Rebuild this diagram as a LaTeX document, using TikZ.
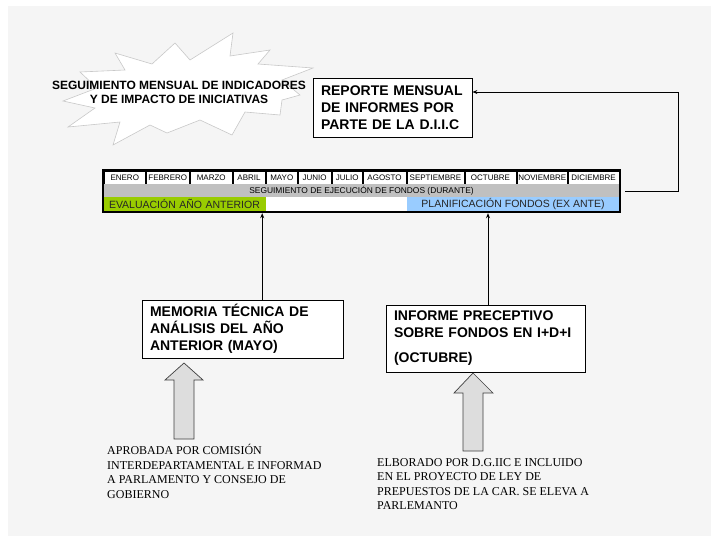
\documentclass[tikz,border=0pt]{standalone}
\usepackage{fontspec}
\setmainfont{Liberation Sans}
\newfontfamily\tnrfont{Liberation Serif}
\usetikzlibrary{arrows.meta}
\definecolor{bgcol}{RGB}{245,245,245}
\definecolor{evalgreen}{RGB}{153,204,0}
\definecolor{planblue}{RGB}{153,204,255}
\definecolor{rowgray}{RGB}{192,192,192}
\definecolor{blockfill}{RGB}{221,221,221}
\definecolor{burstline}{RGB}{200,200,200}
\begin{document}
\begin{tikzpicture}[x=1pt,y=-1pt,
  conn/.style={draw=black,line width=0.8pt,-{Stealth[length=5pt,width=4pt]}},
  textbox/.style={draw=black,line width=0.8pt,fill=white,inner xsep=8pt,inner ysep=0pt,align=left,
     font=\fontsize{14}{17}\selectfont\bfseries},
  monthcell/.style={fill=white,draw=black,line width=0.4pt,inner sep=0pt,minimum height=12.5pt,
     font=\fontsize{8}{9}\selectfont},
  rowcell/.style={inner sep=0pt,minimum height=14pt},
  blockarrow/.style={fill=blockfill,draw=black!75,line width=0.7pt},
  note/.style={anchor=north west,inner sep=0pt,align=left,font=\tnrfont\fontsize{12}{14.5}\selectfont}
]
\useasboundingbox (0,0) rectangle (719,542);
\fill[white] (0,0) rectangle (719,542);
\fill[bgcol] (8,6) rectangle (711,536);

% starburst
\filldraw[fill=white,draw=burstline,line width=0.6pt]
 (115,53) -- (152,64) -- (175,43) -- (190,60) -- (233,33) -- (230,56) -- (270,50) -- (258,64)
 -- (313,68) -- (282,80) -- (300,95) -- (282,100) -- (280,115) -- (245,112) -- (232,135)
 -- (200,120) -- (167,133) -- (150,125) -- (113,145) -- (120,122) -- (68,127) -- (95,108)
 -- (63,101) -- (97,88) -- (80,72) -- (125,70) -- cycle;
\node[align=center,inner sep=0pt,font=\fontsize{12}{14}\selectfont\bfseries] (burst) at (179,92)
 {SEGUIMIENTO MENSUAL DE INDICADORES\\Y DE IMPACTO DE INICIATIVAS};

% report box
\node[textbox,text width=143pt,minimum height=59pt] (reporte) at (392.5,107.5)
 {REPORTE MENSUAL\\DE INFORMES POR\\PARTE DE LA D.I.I.C};

% table
\node[fill=black,inner sep=0pt,minimum width=519pt,minimum height=44pt] (tbl) at (361.5,191) {};
\foreach \a/\b/\t [count=\i] in {104/145.5/ENERO,146/189.5/FEBRERO,190/232.5/MARZO,233/265/ABRIL,
  266/297.5/MAYO,298/331/JUNIO,332/362.5/JULIO,363/406/AGOSTO,407/464/SEPTIEMBRE,465/516/OCTUBRE,
  517/567.5/NOVIEMBRE,568/619/DICIEMBRE}
  \node[monthcell,minimum width={(\b-\a)*1pt}] (m\i) at ({(\a+\b)/2},177.5) {\t};
\node[fill=rowgray,inner sep=0pt,minimum width=515pt,minimum height=13pt,
  font=\fontsize{8.4}{9}\selectfont] (dur) at (361.5,190.5) {SEGUIMIENTO DE EJECUCIÓN DE FONDOS (DURANTE)};
\node[rowcell,fill=evalgreen,minimum width=162pt,text width=152pt,inner xsep=5pt,align=left,
  font=\fontsize{10.5}{12}\selectfont,text=black!85] (eval) at (185,204) {EVALUACIÓN AÑO ANTERIOR};
\node[rowcell,fill=white,minimum width=141pt] (gap) at (336.5,204) {};
\node[rowcell,fill=planblue,minimum width=212pt,font=\fontsize{10.5}{12}\selectfont,text=black!85]
  (plan) at (513,204) {PLANIFICACIÓN FONDOS (EX ANTE)};

% lower boxes
\node[textbox,text width=185pt,minimum height=58pt] (memoria) at (242.5,329)
 {MEMORIA TÉCNICA DE\\ANÁLISIS DEL AÑO\\ANTERIOR (MAYO)};
\node[textbox,text width=183pt,minimum height=67pt] (informe) at (485.5,338.5)
 {INFORME PRECEPTIVO\\SOBRE FONDOS EN I+D+I\\[8pt](OCTUBRE)};

% connectors
\draw[conn] ([xshift=-4pt]memoria.north -| eval.east) -- ([xshift=-4pt]eval.east |- tbl.south);
\draw[conn] ([xshift=2.5pt]informe.north) -- ([xshift=2.5pt]informe.north |- tbl.south);
\draw[conn] ([xshift=4pt]tbl.east) -- ++(53,0) |- ([yshift=15.5pt]reporte.east);

% block arrows
\filldraw[blockarrow] (184,363) -- (203,380) -- (194,380) -- (194,439) -- (174,439) -- (174,380) -- (165,380) -- cycle;
\filldraw[blockarrow] (473,373) -- (493,393) -- (483,393) -- (483,451) -- (463,451) -- (463,393) -- (454,393) -- cycle;

% notes
\node[note] (nota1) at (107,444) {APROBADA POR COMISIÓN\\INTERDEPARTAMENTAL E INFORMAD\\A PARLAMENTO Y CONSEJO DE\\GOBIERNO};
\node[note] (nota2) at (377,458) {ELBORADO POR D.G.IIC E INCLUIDO\\EN EL PROYECTO DE LEY DE\\PREPUESTOS DE LA CAR. SE ELEVA A\\PARLEMANTO};
\end{tikzpicture}
\end{document}
